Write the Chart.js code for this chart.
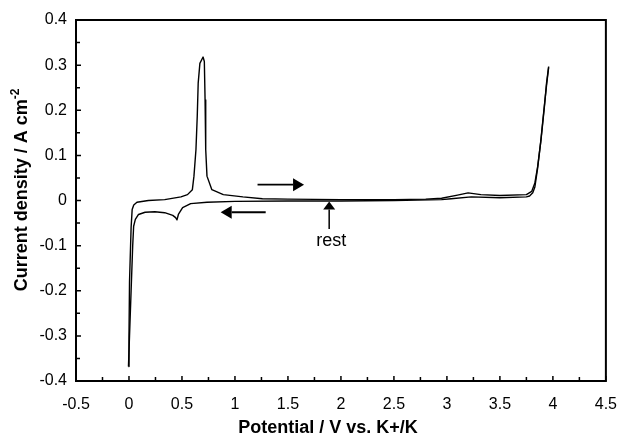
<!DOCTYPE html>
<html>
<head>
<meta charset="utf-8">
<script src="https://cdn.jsdelivr.net/npm/chart.js@4/dist/chart.umd.min.js"></script>
<style>
  html, body { margin: 0; padding: 0; background: #fff; }
  #wrap { width: 631px; height: 434px; position: relative; }
</style>
</head>
<body>
<div id="wrap"><canvas id="cv"></canvas></div>
<script>
// anodic scan (upper trace), potential in V and current density in A cm-2
const anodicV = [-0.005, 0.0, 0.005, 0.02, 0.03, 0.045, 0.075, 0.183, 0.337, 0.49, 0.552, 0.598, 0.613, 0.632, 0.644, 0.653, 0.669, 0.699, 0.711, 0.718, 0.724, 0.736, 0.782, 0.89, 1.075, 1.259, 1.5, 2.0, 2.5, 2.8, 2.95, 3.1, 3.2, 3.32, 3.5, 3.75, 3.8, 3.83, 3.857, 3.888, 3.92, 3.94, 3.96];
const anodicI = [-0.368, -0.3, -0.18, -0.06, -0.02, -0.01, -0.004, 0.0, 0.002, 0.008, 0.013, 0.024, 0.054, 0.113, 0.186, 0.26, 0.304, 0.318, 0.308, 0.223, 0.113, 0.054, 0.024, 0.013, 0.008, 0.004, 0.003, 0.002, 0.002, 0.003, 0.005, 0.012, 0.017, 0.013, 0.011, 0.013, 0.02, 0.039, 0.076, 0.135, 0.208, 0.26, 0.297];

// cathodic scan (lower trace), back from 4 V down to 0 V
const cathodicV = [3.96, 3.94, 3.915, 3.885, 3.855, 3.83, 3.81, 3.78, 3.75, 3.5, 3.23, 3.04, 2.95, 2.5, 2.0, 1.5, 1.0, 0.736, 0.582, 0.506, 0.466, 0.453, 0.44, 0.413, 0.337, 0.244, 0.152, 0.09, 0.06, 0.044, 0.035, 0.02, 0.005, -0.005];
const cathodicI = [0.295, 0.255, 0.2, 0.13, 0.07, 0.03, 0.017, 0.01, 0.008, 0.006, 0.008, 0.004, 0.002, 0.0, -0.001, -0.001, -0.002, -0.004, -0.007, -0.016, -0.031, -0.043, -0.038, -0.033, -0.027, -0.025, -0.026, -0.031, -0.042, -0.057, -0.1, -0.2, -0.3, -0.368];

const xTickLabels = ['-0.5', '0', '0.5', '1', '1.5', '2', '2.5', '3', '3.5', '4', '4.5'];
const yTickLabels = ['-0.4', '-0.3', '-0.2', '-0.1', '0', '0.1', '0.2', '0.3', '0.4'];

const toPoints = (xs, ys) => xs.map((x, i) => ({ x: x, y: ys[i] }));

// frame, inward ticks, axis titles and the arrows
const decor = {
    id: 'decor',
    afterDraw(chart) {
        const ctx = chart.ctx;
        const a = chart.chartArea;
        const xs = chart.scales.x;
        const ys = chart.scales.y;
        ctx.save();
        ctx.strokeStyle = '#000';
        ctx.fillStyle = '#000';

        // inward ticks on bottom and left
        ctx.lineWidth = 1.5;
        ctx.beginPath();
        for (let i = 0; i < xTickLabels.length * 2 - 1; i++) {
            const px = xs.getPixelForValue(-0.5 + i * 0.25);
            const len = i % 2 === 0 ? 5 : 4;
            ctx.moveTo(px, a.bottom);
            ctx.lineTo(px, a.bottom - len);
        }
        for (let i = 0; i < yTickLabels.length * 2 - 1; i++) {
            const py = ys.getPixelForValue(-0.4 + i * 0.05);
            const len = i % 2 === 0 ? 5 : 4;
            ctx.moveTo(a.left, py);
            ctx.lineTo(a.left + len, py);
        }
        ctx.stroke();

        // frame
        ctx.lineWidth = 2;
        ctx.strokeRect(a.left, a.top, a.right - a.left, a.bottom - a.top);

        // axis titles
        ctx.font = 'bold 18px "Liberation Sans", Arial, sans-serif';
        ctx.textAlign = 'center';
        ctx.textBaseline = 'middle';
        ctx.fillText('Potential / V vs. K+/K', 328, 428);

        ctx.save();
        ctx.translate(22, 190);
        ctx.rotate(-Math.PI / 2);
        const main = 'Current density / A cm';
        const sup = '-2';
        const w1 = ctx.measureText(main).width;
        ctx.font = 'bold 12px "Liberation Sans", Arial, sans-serif';
        const w2 = ctx.measureText(sup).width;
        const start = -(w1 + w2) / 2;
        ctx.textAlign = 'left';
        ctx.fillText(sup, start + w1, -6);
        ctx.font = 'bold 18px "Liberation Sans", Arial, sans-serif';
        ctx.fillText(main, start, 0);
        ctx.restore();

        // horizontal arrows
        const hArrow = (x0, x1, y) => {
            const p0 = xs.getPixelForValue(x0);
            const p1 = xs.getPixelForValue(x1);
            const py = ys.getPixelForValue(y);
            const dir = Math.sign(p1 - p0);
            const head = 11;
            ctx.lineWidth = 1.8;
            ctx.beginPath();
            ctx.moveTo(p0, py);
            ctx.lineTo(p1 - dir * head, py);
            ctx.stroke();
            ctx.beginPath();
            ctx.moveTo(p1, py);
            ctx.lineTo(p1 - dir * head, py - 6.5);
            ctx.lineTo(p1 - dir * head, py + 6.5);
            ctx.closePath();
            ctx.fill();
        };
        hArrow(1.213, 1.652, 0.035);
        hArrow(1.29, 0.865, -0.026);

        // rest marker
        const rx = xs.getPixelForValue(1.889);
        const tip = ys.getPixelForValue(-0.002);
        const tail = ys.getPixelForValue(-0.063);
        ctx.lineWidth = 1.5;
        ctx.beginPath();
        ctx.moveTo(rx, tail);
        ctx.lineTo(rx, tip + 8);
        ctx.stroke();
        ctx.beginPath();
        ctx.moveTo(rx, tip);
        ctx.lineTo(rx - 6, tip + 8);
        ctx.lineTo(rx + 6, tip + 8);
        ctx.closePath();
        ctx.fill();

        ctx.font = '18px "Liberation Sans", Arial, sans-serif';
        ctx.textAlign = 'center';
        ctx.fillText('rest', xs.getPixelForValue(1.908), ys.getPixelForValue(-0.089));
        ctx.restore();
    }
};

new Chart(document.getElementById('cv'), {
    type: 'scatter',
    data: {
        datasets: [
            {
                label: 'anodic',
                data: toPoints(anodicV, anodicI),
                showLine: true,
                borderColor: '#000',
                borderWidth: 1.4,
                borderJoinStyle: 'round',
                pointRadius: 0,
                tension: 0
            },
            {
                label: 'cathodic',
                data: toPoints(cathodicV, cathodicI),
                showLine: true,
                borderColor: '#000',
                borderWidth: 1.4,
                borderJoinStyle: 'round',
                pointRadius: 0,
                tension: 0
            }
        ]
    },
    options: {
        responsive: true,
        maintainAspectRatio: false,
        animation: false,
        layout: { padding: { left: 0, top: 20, right: 13, bottom: 0 } },
        plugins: {
            legend: { display: false },
            tooltip: { enabled: false }
        },
        scales: {
            x: {
                type: 'linear',
                min: -0.5,
                max: 4.5,
                afterBuildTicks: s => { s.ticks = xTickLabels.map(t => ({ value: parseFloat(t) })); },
                afterFit: s => { s.height = 53; },
                grid: { display: false, drawTicks: false },
                border: { display: false },
                ticks: {
                    color: '#000',
                    padding: 14,
                    maxRotation: 0,
                    font: { family: '"Liberation Sans", Arial, sans-serif', size: 16 },
                    callback: (v, i) => xTickLabels[i]
                }
            },
            y: {
                type: 'linear',
                min: -0.4,
                max: 0.4,
                afterBuildTicks: s => { s.ticks = yTickLabels.map(t => ({ value: parseFloat(t) })); },
                afterFit: s => { s.width = 76; },
                grid: { display: false, drawTicks: false },
                border: { display: false },
                ticks: {
                    color: '#000',
                    padding: 9,
                    font: { family: '"Liberation Sans", Arial, sans-serif', size: 16 },
                    callback: (v, i) => yTickLabels[i]
                }
            }
        }
    },
    plugins: [decor]
});
</script>
</body>
</html>
